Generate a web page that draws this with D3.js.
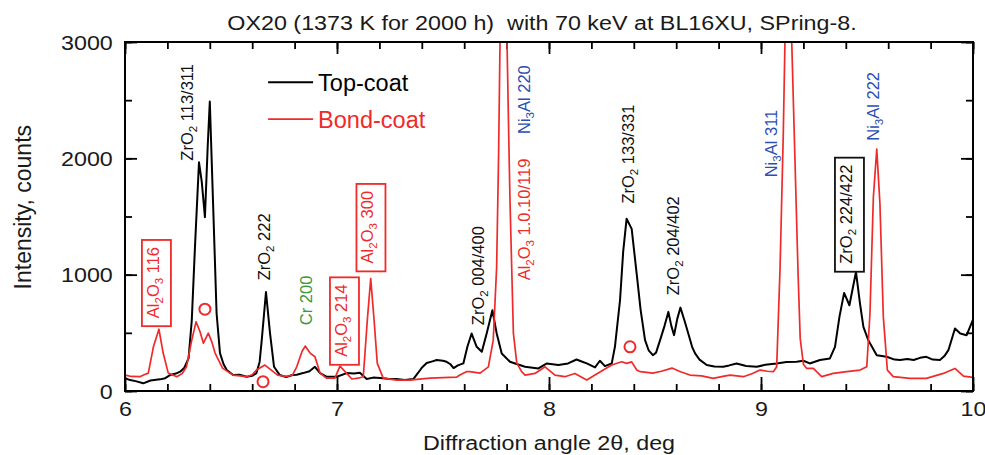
<!DOCTYPE html>
<html>
<head>
<meta charset="utf-8">
<script src="https://cdn.jsdelivr.net/npm/d3@7"></script>
<style>
body { margin: 0; background: #fff; }
text { font-family: "Liberation Sans", Arial, Helvetica, sans-serif; }
</style>
</head>
<body>
<div id="chart"></div>
<script>
// Top-coat (black) trace
var topAngle = [6.00, 6.024, 6.05, 6.086, 6.12, 6.165, 6.19, 6.212, 6.24, 6.26, 6.28, 6.30, 6.315, 6.33, 6.349, 6.362,
	6.377, 6.39, 6.40, 6.417, 6.432, 6.448, 6.465, 6.48, 6.51, 6.54, 6.574, 6.60, 6.62, 6.635, 6.645, 6.665, 6.684,
	6.703, 6.73, 6.76, 6.79, 6.81, 6.84, 6.87, 6.896, 6.92, 6.95, 6.999, 7.046, 7.08, 7.108, 7.14, 7.17, 7.203,
	7.24, 7.28, 7.32, 7.36, 7.383, 7.40, 7.423, 7.45, 7.47, 7.50, 7.517, 7.535, 7.55, 7.57, 7.596, 7.615, 7.635,
	7.659, 7.683, 7.706, 7.733, 7.753, 7.777, 7.816, 7.84, 7.887, 7.95, 7.99, 8.044, 8.09, 8.13, 8.154, 8.178,
	8.217, 8.24, 8.264, 8.296, 8.311, 8.335, 8.35, 8.366, 8.39, 8.414, 8.432, 8.453, 8.47, 8.49, 8.505, 8.524,
	8.545, 8.563, 8.577, 8.59, 8.605, 8.62, 8.64, 8.657, 8.675, 8.689, 8.71, 8.744, 8.78, 8.822, 8.85, 8.885,
	8.93, 8.98, 9.02, 9.074, 9.12, 9.168, 9.20, 9.23, 9.278, 9.325, 9.349, 9.37, 9.392, 9.417, 9.448, 9.467,
	9.483, 9.506, 9.546, 9.593, 9.63, 9.656, 9.69, 9.72, 9.75, 9.78, 9.81, 9.844, 9.865, 9.884, 9.915, 9.94,
	9.97, 10.0];
var topCounts = [110, 94, 85, 66, 90, 100, 110, 137, 150, 166, 200, 283, 608, 1237, 1966, 1800,
	1494, 2100, 2488, 1526, 668, 326, 230, 180, 137, 140, 123, 130, 154, 250, 437, 851, 497,
	208, 137, 120, 137, 140, 154, 170, 208, 154, 123, 123, 154, 150, 157, 103, 115, 111,
	105, 103, 95, 103, 157, 200, 240, 255, 266, 260, 251, 230, 197, 220, 237, 380, 494,
	380, 337, 494, 694, 497, 323, 251, 237, 208, 194, 237, 223, 237, 271, 254, 237,
	203, 260, 214, 237, 380, 780, 1200, 1480, 1394, 1000, 700, 437, 350, 308, 330, 437,
	560, 680, 560, 480, 620, 717, 600, 494, 380, 323, 270, 223, 210, 208, 220, 237,
	215, 208, 225, 237, 250, 251, 260, 237, 266, 280, 380, 637, 843, 737, 1023, 751,
	551, 437, 308, 294, 270, 266, 275, 266, 285, 294, 270, 266, 300, 351, 537, 494,
	480, 614];

// Bond-coat (red) trace
var bondAngle = [6.00, 6.03, 6.07, 6.09, 6.11, 6.134, 6.16, 6.18, 6.204, 6.244, 6.27, 6.29, 6.315, 6.335, 6.352,
	6.37, 6.393, 6.41, 6.425, 6.46, 6.49, 6.51, 6.574, 6.60, 6.62, 6.66, 6.69, 6.72, 6.76, 6.79, 6.81, 6.835,
	6.85, 6.873, 6.896, 6.92, 6.95, 6.99, 7.014, 7.038, 7.07, 7.10, 7.124, 7.143, 7.159, 7.175, 7.19, 7.218,
	7.28, 7.344, 7.40, 7.44, 7.50, 7.565, 7.58, 7.61, 7.627, 7.675, 7.714, 7.737, 7.753, 7.762, 7.769, 7.785,
	7.802, 7.81, 7.816, 7.832, 7.848, 7.871, 7.887, 7.934, 7.981, 8.028, 8.075, 8.122, 8.178, 8.217, 8.256, 8.296,
	8.343, 8.366, 8.39, 8.414, 8.43, 8.49, 8.53, 8.58, 8.62, 8.665, 8.72, 8.775, 8.82, 8.854, 8.917, 8.96, 8.995,
	9.03, 9.058, 9.074, 9.09, 9.105, 9.113, 9.13, 9.145, 9.16, 9.175, 9.185, 9.20, 9.216, 9.247, 9.286, 9.341,
	9.404, 9.467, 9.499, 9.514, 9.53, 9.546, 9.561, 9.577, 9.596, 9.624, 9.703, 9.78, 9.86, 9.915, 9.955, 10.0];
var bondCounts = [137, 125, 123, 140, 154, 380, 531, 326, 154, 123, 150, 208, 437, 594, 520,
	411, 497, 420, 326, 197, 160, 137, 123, 140, 180, 223, 180, 137, 125, 137, 208, 340,
	386, 326, 294, 154, 111, 111, 214, 166, 103, 110, 123, 608, 966, 608, 237, 111,
	94, 94, 105, 111, 115, 120, 137, 166, 166, 154, 208, 437, 1065, 2000, 3000, 3500,
	3000, 2200, 1637, 497, 240, 166, 137, 151, 208, 137, 123, 151, 94, 137, 180, 223,
	251, 237, 250, 180, 166, 154, 170, 197, 165, 137, 130, 109, 125, 137, 123, 150, 180,
	170, 166, 208, 1065, 2200, 3000, 3400, 3000, 2000, 1000, 450, 230, 194, 194, 123, 151,
	166, 180, 208, 666, 1666, 2080, 1609, 637, 180, 123, 109, 109, 151, 194, 128, 117];

var xMajor = [6, 7, 8, 9, 10];
var yMajor = [0, 1000, 2000, 3000];
var seriesNames = ['Top-coat', 'Bond-coat'];

// peak annotations: text (_n = subscript), start of text in data units, colour, framed or not
var peakText = ['ZrO_2 113/311', 'ZrO_2 222', 'Al_2O_3 116', 'Cr 200', 'Al_2O_3 214', 'Al_2O_3 300',
	'ZrO_2 004/400', 'Ni_3Al 220', 'Al_2O_3 1.0.10/119', 'ZrO_2 133/331', 'ZrO_2 204/402', 'Ni_3Al 311',
	'ZrO_2 224/422', 'Ni_3Al 222'];
var peakAngle = [6.321, 6.684, 6.160, 6.882, 7.047, 7.172, 7.693, 7.910, 7.910, 8.401, 8.613, 9.075, 9.429, 9.557];
var peakAt = [1980, 951, 626, 566, 294, 1097, 566, 2209, 951, 1611, 823, 1837, 1094, 2151];
var peakKind = ['top', 'top', 'al', 'cr', 'al', 'al', 'top', 'ni', 'al', 'top', 'top', 'ni', 'top', 'ni'];
var peakBox = [false, false, true, false, true, true, false, false, false, false, false, false, true, false];

// open circles
var ringAngle = [6.377, 6.651, 8.382];
var ringCounts = [703, 80, 380];

var colors = {top: '#111', al: '#f02a2a', ni: '#2c4fb3', cr: '#3c9a3c'};
var bondColor = '#f02a2a';

var W = 985, H = 455;
var margin = {top: 42, right: 12, bottom: 64, left: 125};
var width = W - margin.left - margin.right;
var height = H - margin.top - margin.bottom;

var svg = d3.select('#chart').append('svg')
	.attr('width', W)
	.attr('height', H);

var x = d3.scaleLinear().domain([6, 10]).range([margin.left, margin.left + width]);
var y = d3.scaleLinear().domain([0, 3000]).range([margin.top + height, margin.top]);

svg.append('clipPath').attr('id', 'plotClip')
	.append('rect')
	.attr('x', margin.left).attr('y', margin.top)
	.attr('width', width).attr('height', height);

// ticks, all pointing inward
var xMinor = d3.range(6, 10.001, 0.2);
var yMinor = d3.range(0, 3001, 500);

function tickGroup(axis, tx, ty) {
	var g = svg.append('g')
		.attr('transform', 'translate(' + tx + ',' + ty + ')')
		.call(axis);
	g.select('.domain').remove();
	g.selectAll('line').attr('stroke', '#000').attr('stroke-width', 1.8);
	return g;
}

tickGroup(d3.axisBottom(x).tickValues(xMinor).tickSize(-7).tickFormat(''), 0, margin.top + height);
tickGroup(d3.axisTop(x).tickValues(xMinor).tickSize(-7).tickFormat(''), 0, margin.top);
tickGroup(d3.axisLeft(y).tickValues(yMinor).tickSize(-7).tickFormat(''), margin.left, 0);
tickGroup(d3.axisRight(y).tickValues(yMinor).tickSize(-7).tickFormat(''), margin.left + width, 0);
tickGroup(d3.axisTop(x).tickValues(xMajor).tickSize(-12).tickFormat(''), 0, margin.top);
tickGroup(d3.axisRight(y).tickValues(yMajor).tickSize(-12).tickFormat(''), margin.left + width, 0);

var xAxis = tickGroup(d3.axisBottom(x).tickValues(xMajor).tickSize(-14).tickPadding(10).tickFormat(d3.format('d')),
	0, margin.top + height);
var yAxis = tickGroup(d3.axisLeft(y).tickValues(yMajor).tickSize(-12).tickPadding(11).tickFormat(d3.format('d')),
	margin.left, 0);

// the picture's lettering is a little wide, so stretch it sideways
xAxis.selectAll('text').attr('fill', '#1a1a1a').style('font-size', '21px').attr('transform', 'scale(1.11,1)');
yAxis.selectAll('text').attr('fill', '#1a1a1a').style('font-size', '21px').attr('dy', '0.34em')
	.attr('transform', 'scale(1.11,1)');

// traces
var line = d3.line()
	.x(function(d) { return x(d[0]); })
	.y(function(d) { return y(d[1]); });

var plot = svg.append('g').attr('clip-path', 'url(#plotClip)');

plot.append('path')
	.datum(d3.zip(topAngle, topCounts))
	.attr('d', line)
	.attr('fill', 'none')
	.attr('stroke', '#000')
	.attr('stroke-width', 2)
	.attr('stroke-linejoin', 'round');

plot.append('path')
	.datum(d3.zip(bondAngle, bondCounts))
	.attr('d', line)
	.attr('fill', 'none')
	.attr('stroke', bondColor)
	.attr('stroke-width', 1.7)
	.attr('stroke-linejoin', 'round');

// frame
svg.append('rect')
	.attr('x', margin.left).attr('y', margin.top)
	.attr('width', width).attr('height', height)
	.attr('fill', 'none')
	.attr('stroke', '#000')
	.attr('stroke-width', 2);

// rotated peak labels
peakText.forEach(function(t, i) {
	var col = colors[peakKind[i]];
	var g = svg.append('g')
		.attr('transform', 'translate(' + x(peakAngle[i]) + ',' + y(peakAt[i]) + ') rotate(-90)');
	var txt = g.append('text')
		.attr('fill', col)
		.style('font-size', '16.5px')
		.style('white-space', 'pre');
	var sub = false;
	t.split(/_(\d)/).forEach(function(s, k) {
		if (!s) return;
		var isSub = (k % 2 == 1);
		var ts = txt.append('tspan').text(s);
		if (isSub) ts.style('font-size', '11.5px').attr('dy', 4);
		else if (sub) ts.attr('dy', -4);
		sub = isSub;
	});
	if (peakBox[i]) {
		var bb = txt.node().getBBox();
		g.insert('rect', 'text')
			.attr('x', bb.x - 8).attr('y', bb.y - 2)
			.attr('width', bb.width + 15).attr('height', bb.height + 8)
			.attr('fill', 'none')
			.attr('stroke', col)
			.attr('stroke-width', 1.8);
	}
});

svg.selectAll('circle.ring')
	.data(d3.zip(ringAngle, ringCounts))
	.enter()
	.append('circle')
	.attr('class', 'ring')
	.attr('cx', function(d) { return x(d[0]); })
	.attr('cy', function(d) { return y(d[1]); })
	.attr('r', 5.5)
	.attr('fill', 'none')
	.attr('stroke', bondColor)
	.attr('stroke-width', 2);

// legend
var legend = svg.append('g').attr('transform', 'translate(' + x(6.675) + ',' + y(2655) + ')');
seriesNames.forEach(function(name, i) {
	var col = i == 0 ? '#000' : bondColor;
	legend.append('line')
		.attr('x1', 0).attr('x2', 45)
		.attr('y1', i * 37).attr('y2', i * 37)
		.attr('stroke', col)
		.attr('stroke-width', i == 0 ? 2 : 1.7);
	legend.append('text')
		.attr('x', 50).attr('y', i * 37 + 9)
		.attr('fill', col)
		.style('font-size', '23.5px')
		.text(name);
});

// titles
svg.append('g').attr('transform', 'translate(542,30) scale(1.11,1)')
	.append('text')
	.attr('text-anchor', 'middle')
	.attr('fill', '#1a1a1a')
	.style('font-size', '21px')
	.style('white-space', 'pre')
	.text('OX20 (1373 K for 2000 h)  with 70 keV at BL16XU, SPring-8.');

svg.append('g').attr('transform', 'translate(' + (margin.left + width / 2) + ',450) scale(1.11,1)')
	.append('text')
	.attr('text-anchor', 'middle')
	.attr('fill', '#1a1a1a')
	.style('font-size', '21px')
	.text('Diffraction angle 2\u03b8, deg');

svg.append('text')
	.attr('transform', 'translate(31,' + (y(1580)) + ') rotate(-90)')
	.attr('text-anchor', 'middle')
	.attr('fill', '#1a1a1a')
	.style('font-size', '23px')
	.text('Intensity, counts');
</script>
</body>
</html>
